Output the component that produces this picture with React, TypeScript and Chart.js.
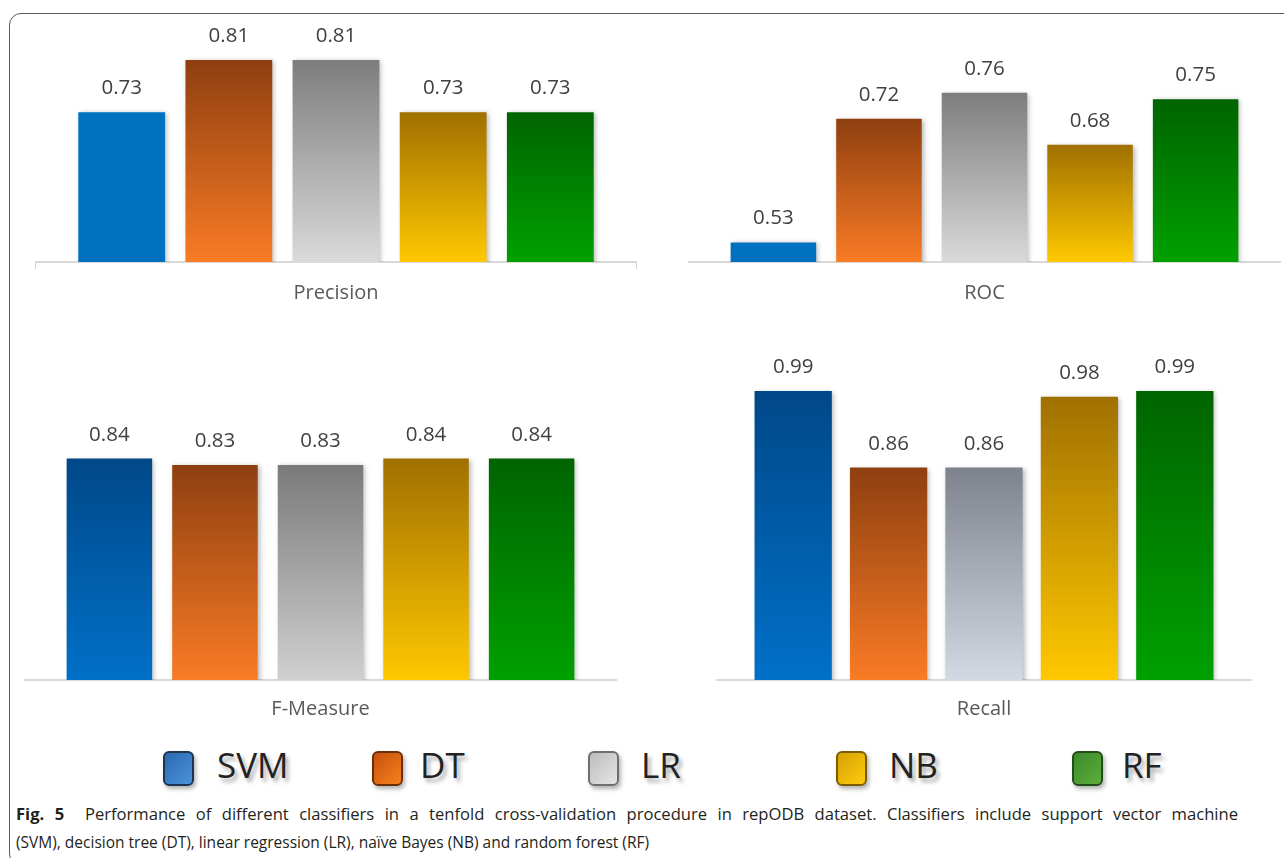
import React, { useEffect, useRef } from 'react';
import { Chart, registerables } from 'chart.js';

Chart.register(...registerables);

// ---------- data ----------
const classifiers = ['SVM', 'DT', 'LR', 'NB', 'RF'];
const precisionValues = [0.73, 0.81, 0.81, 0.73, 0.73];
const rocValues = [0.53, 0.72, 0.76, 0.68, 0.75];
const fMeasureValues = [0.84, 0.83, 0.83, 0.84, 0.84];
const recallValues = [0.99, 0.86, 0.86, 0.98, 0.99];
const panelTitles = ['Precision', 'ROC', 'F-Measure', 'Recall'];
const captionLabel = 'Fig. 5';
const captionLine1 =
  'Performance of different classifiers in a tenfold cross-validation procedure in repODB dataset. Classifiers include support vector machine';
const captionLine2 =
  '(SVM), decision tree (DT), linear regression (LR), naïve Bayes (NB) and random forest (RF)';

// ---------- styles ----------
const paletteTop: string[][] = [
  ['#0070c0', '#0070c0'],
  ['#8e3f10', '#f97b25'],
  ['#7d7d7d', '#dadada'],
  ['#a07000', '#ffc800'],
  ['#006400', '#00a000'],
];
const paletteF: string[][] = [
  ['#004888', '#0070c8'],
  ['#8e3f10', '#f97b25'],
  ['#7a7a7a', '#d0d0d0'],
  ['#a07000', '#ffc800'],
  ['#006400', '#00a000'],
];
const paletteR: string[][] = [
  ['#004888', '#0070c8'],
  ['#8e3f10', '#f97b25'],
  ['#7d828c', '#d3d9e3'],
  ['#a07000', '#ffc800'],
  ['#006400', '#00a000'],
];
const legendFill: string[][] = [
  ['#2c68ad', '#4a93dc', '#1d3550'],
  ['#c4520c', '#f7801f', '#6a2f08'],
  ['#bdbdbd', '#e4e4e4', '#6f6f6f'],
  ['#d6a200', '#ffcb10', '#7b5d00'],
  ['#3b8a2a', '#5cae3c', '#234d18'],
];
const legendSquareX = [163, 372, 588, 836, 1072];
const legendTextX = [217, 420, 641, 889, 1122];

const FONT = '"Open Sans", "Noto Sans", sans-serif';

function makeGradient(ctx: any, stops: string[]) {
  const chart = ctx.chart;
  const area = chart.chartArea;
  const y = chart.scales && chart.scales.y;
  if (!area || !y || typeof ctx.raw !== 'number') return stops[1];
  const top = y.getPixelForValue(ctx.raw);
  const g = chart.ctx.createLinearGradient(0, top, 0, area.bottom);
  g.addColorStop(0, stops[0]);
  g.addColorStop(1, stops[1]);
  return g;
}

const shadowPlugin = {
  id: 'barShadow',
  beforeDatasetDraw(chart: any) {
    const c = chart.ctx;
    c.save();
    c.shadowColor = 'rgba(0,0,0,0.28)';
    c.shadowBlur = 5;
    c.shadowOffsetX = 2;
    c.shadowOffsetY = 1;
  },
  afterDatasetDraw(chart: any) {
    chart.ctx.restore();
  },
};

const valueLabelPlugin = {
  id: 'valueLabels',
  afterDatasetsDraw(chart: any) {
    const c = chart.ctx;
    c.save();
    c.font = '20.5px ' + FONT;
    c.fillStyle = '#404040';
    c.textAlign = 'center';
    c.textBaseline = 'alphabetic';
    chart.data.datasets.forEach((ds: any, i: number) => {
      const meta = chart.getDatasetMeta(i);
      meta.data.forEach((el: any, j: number) => {
        const v = ds.data[j] as number;
        c.fillText(v.toFixed(2), el.x, el.y - 18);
      });
    });
    c.restore();
  },
};

type PanelProps = {
  values: number[];
  title: string;
  palette: string[][];
  min: number;
  max: number;
  endTicks: boolean;
  tickPad: number;
  padTop: number;
  left: number;
  top: number;
  width: number;
  height: number;
};

function Panel(p: PanelProps) {
  const ref = useRef<HTMLCanvasElement | null>(null);
  useEffect(() => {
    if (!ref.current) return;
    const chart = new Chart(ref.current, {
      type: 'bar',
      data: {
        labels: [p.title],
        datasets: classifiers.map((name, i) => ({
          label: name,
          data: [p.values[i]],
          backgroundColor: (ctx: any) => makeGradient(ctx, p.palette[i]),
          borderWidth: 0,
          categoryPercentage: 0.89,
          barPercentage: 0.81,
        })),
      },
      options: {
        responsive: false,
        maintainAspectRatio: false,
        animation: false,
        layout: { padding: { top: p.padTop, left: 0, right: 0, bottom: 0 } },
        plugins: { legend: { display: false }, tooltip: { enabled: false } },
        scales: {
          x: {
            grid: {
              display: p.endTicks,
              drawOnChartArea: false,
              drawTicks: p.endTicks,
              tickLength: 7,
              color: '#d4d4d4',
              lineWidth: 2,
            },
            border: { display: true, color: '#d9d9d9', width: 2 },
            ticks: { padding: p.tickPad, color: '#595959', font: { family: FONT, size: 20 } },
          },
          y: { display: false, min: p.min, max: p.max },
        },
      } as any,
      plugins: [shadowPlugin, valueLabelPlugin],
    });
    return () => chart.destroy();
  }, []);
  return (
    <canvas
      ref={ref}
      width={p.width}
      height={p.height}
      style={{ position: 'absolute', left: p.left, top: p.top, width: p.width, height: p.height }}
    />
  );
}

export default function App() {
  return (
    <div
      style={{
        position: 'fixed',
        left: 0,
        top: 0,
        width: 1284,
        height: 858,
        overflow: 'hidden',
        background: '#ffffff',
        fontFamily: FONT,
      }}
    >
      <div
        style={{
          position: 'absolute',
          left: 9,
          top: 13,
          width: 1400,
          height: 853,
          border: '1.5px solid #5a5a5a',
          borderRadius: 12,
          boxSizing: 'border-box',
        }}
      />
      <Panel values={precisionValues} title={panelTitles[0]} palette={paletteTop} min={0.5} max={0.85}
        endTicks={true} tickPad={12} padTop={34} left={35} top={0} width={602} height={317} />
      <Panel values={rocValues} title={panelTitles[1]} palette={paletteTop} min={0.5} max={0.85}
        endTicks={false} tickPad={19} padTop={34} left={688} top={0} width={593} height={324} />
      <Panel values={fMeasureValues} title={panelTitles[2]} palette={paletteF} min={0.5} max={0.85}
        endTicks={false} tickPad={17} padTop={52} left={24} top={400} width={593} height={338} />
      <Panel values={recallValues} title={panelTitles[3]} palette={paletteR} min={0.5} max={1.0}
        endTicks={false} tickPad={17} padTop={45} left={716} top={340} width={536} height={398} />

      {classifiers.map((name, i) => (
        <React.Fragment key={name}>
          <div
            style={{
              position: 'absolute',
              left: legendSquareX[i],
              top: 751,
              width: 31,
              height: 35,
              boxSizing: 'border-box',
              border: '2px solid ' + legendFill[i][2],
              borderRadius: 6,
              background: `linear-gradient(135deg, ${legendFill[i][0]}, ${legendFill[i][1]})`,
              boxShadow: '2px 3px 4px rgba(0,0,0,0.3)',
            }}
          />
          <div
            style={{
              position: 'absolute',
              left: legendTextX[i],
              top: 747,
              fontSize: 35,
              lineHeight: '35px',
              color: '#222222',
              textShadow: '3px 4px 4px rgba(0,0,0,0.35)',
              whiteSpace: 'nowrap',
            }}
          >
            {name}
          </div>
        </React.Fragment>
      ))}

      <div
        style={{
          position: 'absolute',
          left: 16,
          top: 799,
          width: 1222,
          lineHeight: '29px',
          color: '#231f20',
        }}
      >
        <div style={{ textAlign: 'justify', textAlignLast: 'justify', whiteSpace: 'nowrap' as any, fontSize: 16.6 }}>
          <span style={{ fontWeight: 700 }}>{captionLabel}</span>
          <span>{'\u00a0\u00a0' + captionLine1}</span>
        </div>
        <div style={{ whiteSpace: 'nowrap', fontSize: 15.5 }}>{captionLine2}</div>
      </div>
    </div>
  );
}
